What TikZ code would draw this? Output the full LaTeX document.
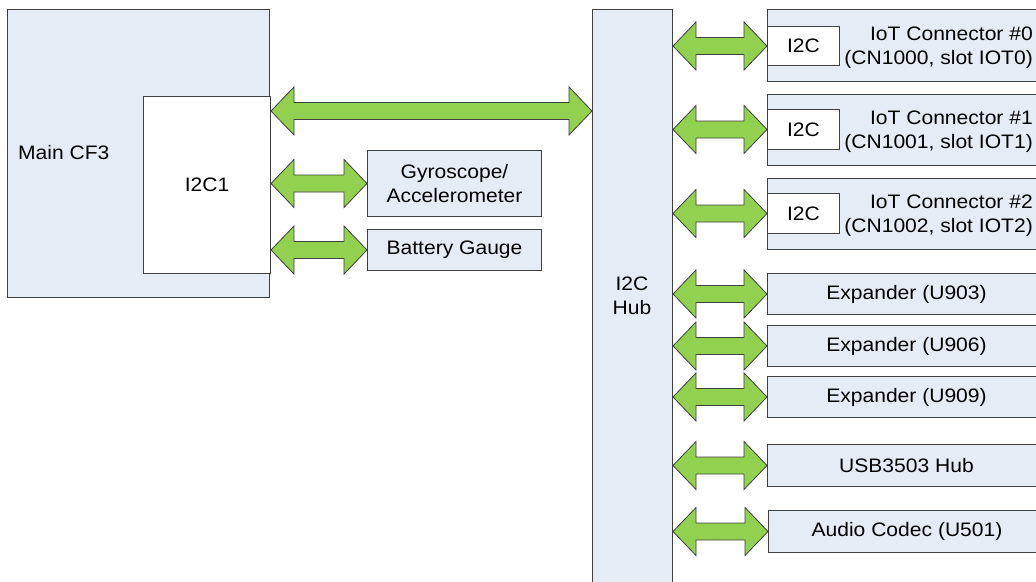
\documentclass[tikz,border=0pt]{standalone}
\usepackage{fontspec}
\setmainfont{Liberation Sans}[FakeStretch=1.08]
\usetikzlibrary{calc}

\definecolor{boxfill}{RGB}{230,236,246}
\definecolor{busgreen}{RGB}{146,208,80}
\definecolor{edge}{RGB}{64,64,64}

\tikzset{
  blk/.style={draw=edge, line width=1pt, fill=boxfill, rectangle,
    inner sep=0pt, anchor=north west},
  whiteblk/.style={blk, fill=white},
  txt/.style={inner sep=0pt},
  bus/.style={draw=edge, line width=0.8pt, fill=busgreen, line join=miter}
}

% double-headed bus arrow between two points at the same height
\newcommand\busarrow[2]{%
  \draw[bus] let \p1=#1, \p2=#2 in
    (\x1,\y1) -- ++(23pt,24pt) -- ++(0pt,-15.5pt)
    -- (\x2-23pt,\y1+8.5pt) -- ++(0pt,15.5pt) -- (\x2,\y1)
    -- ++(-23pt,-24pt) -- ++(0pt,15.5pt)
    -- (\x1+23pt,\y1-8.5pt) -- ++(0pt,-15.5pt) -- cycle;}

\begin{document}
\begin{tikzpicture}[x=1pt, y=-1pt, font=\fontsize{19.5}{24}\selectfont]
\useasboundingbox (0,0) rectangle (1036,581);
\fill[white] (0,0) rectangle (1036,581);
\clip (0,0) rectangle (1036,581);

% main processor with its I2C1 controller
\node[blk, minimum width=262pt, minimum height=288pt] (main) at (7,9) {};
\node[txt, anchor=base west] (maintxt) at (18,159) {Main CF3};
\node[whiteblk, minimum width=127pt, minimum height=177pt] (i2c1) at (143,96) {I2C1};

% local devices on I2C1
\node[blk, minimum width=174pt, minimum height=66pt, align=center] (gyro) at (367,150) {Gyroscope/\\Accelerometer};
\node[blk, minimum width=174pt, minimum height=41pt] (batt) at (367,229) {Battery Gauge};

% I2C hub
\node[blk, minimum width=80pt, minimum height=600pt] (hub) at (592,9) {};
\node[txt, align=center] (hubtxt) at (632,296) {I2C\\Hub};

% IoT connectors
\node[blk, minimum width=280pt, minimum height=72pt] (iot0) at (767,9) {};
\node[whiteblk, minimum width=72pt, minimum height=39pt] (iot0bus) at (767,26) {I2C};
\node[txt, align=right, anchor=east] (iot0txt) at (1033,48) {IoT Connector \#0\\(CN1000, slot IOT0)};

\node[blk, minimum width=280pt, minimum height=71pt] (iot1) at (767,94) {};
\node[whiteblk, minimum width=72pt, minimum height=40pt] (iot1bus) at (767,109) {I2C};
\node[txt, align=right, anchor=east] (iot1txt) at (1033,132) {IoT Connector \#1\\(CN1001, slot IOT1)};

\node[blk, minimum width=280pt, minimum height=71pt] (iot2) at (767,178) {};
\node[whiteblk, minimum width=72pt, minimum height=40pt] (iot2bus) at (767,193) {I2C};
\node[txt, align=right, anchor=east] (iot2txt) at (1033,216) {IoT Connector \#2\\(CN1002, slot IOT2)};

% other devices behind the hub
\node[blk, minimum width=278pt, minimum height=41pt] (exp1) at (767,273) {Expander (U903)};
\node[blk, minimum width=278pt, minimum height=41pt] (exp2) at (767,325) {Expander (U906)};
\node[blk, minimum width=278pt, minimum height=41pt] (exp3) at (767,376) {Expander (U909)};
\node[blk, minimum width=278pt, minimum height=42pt] (usb) at (767,444) {USB3503 Hub};
\node[blk, minimum width=277pt, minimum height=42pt] (codec) at (768,510) {Audio Codec (U501)};

% bus connections
\coordinate (mainbus) at ($(i2c1.north east)+(0,15)$);
\busarrow{(mainbus)}{(hub.west |- mainbus)}
\busarrow{(i2c1.east |- gyro.west)}{(gyro.west)}
\busarrow{(i2c1.east |- batt.west)}{(batt.west)}

\busarrow{(hub.east |- iot0bus.west)}{(iot0bus.west)}
\busarrow{(hub.east |- iot1bus.west)}{(iot1bus.west)}
\busarrow{(hub.east |- iot2bus.west)}{(iot2bus.west)}
\busarrow{(hub.east |- exp1.west)}{(exp1.west)}
\busarrow{(hub.east |- exp2.west)}{(exp2.west)}
\busarrow{(hub.east |- exp3.west)}{(exp3.west)}
\busarrow{(hub.east |- usb.west)}{(usb.west)}
\busarrow{(hub.east |- codec.west)}{(codec.west)}
\end{tikzpicture}
\end{document}
